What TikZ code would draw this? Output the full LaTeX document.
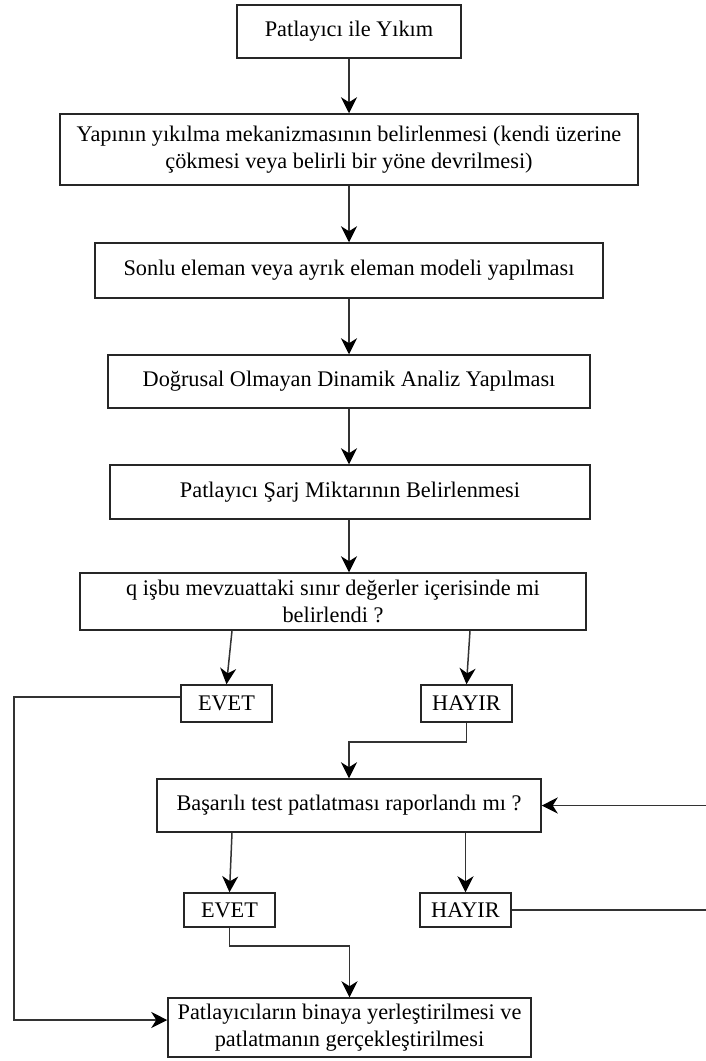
\documentclass[tikz,border=0pt]{standalone}
\usepackage{fontspec}
\setmainfont{Liberation Serif}
\usetikzlibrary{arrows.meta}

\begin{document}
\begin{tikzpicture}[x=1pt,y=-1pt,
    every node/.style={font=\fontsize{22.3}{27}\selectfont},
    kutu/.style={draw=black!85,line width=1.5pt,align=center,inner sep=0pt},
    ok/.style={draw=black!80,line width=1.5pt,-{Stealth[length=16pt,width=16pt,inset=5pt,black]}},
    cizgi/.style={draw=black!80,line width=1.5pt}]

\useasboundingbox (0,0) rectangle (706,1061);

% ana akis
\node[kutu,minimum width=224,minimum height=53] (baslangic) at (349,31.5) {Patlayıcı ile Yıkım};
\node[kutu,minimum width=578,minimum height=71] (mekanizma) at (349,149.5) {Yapının yıkılma mekanizmasının belirlenmesi (kendi üzerine\\çökmesi veya belirli bir yöne devrilmesi)};
\node[kutu,minimum width=508,minimum height=55] (model) at (349,270.5) {Sonlu eleman veya ayrık eleman modeli yapılması};
\node[kutu,minimum width=482,minimum height=53] (analiz) at (349,381.5) {Doğrusal Olmayan Dinamik Analiz Yapılması};
\node[kutu,minimum width=480,minimum height=54] (sarj) at (350,492) {Patlayıcı Şarj Miktarının Belirlenmesi};
\node[kutu,minimum width=506,minimum height=57] (kontrol) at (333,601.5) {q işbu mevzuattaki sınır değerler içerisinde mi\\belirlendi ?};

% ilk karar
\node[kutu,minimum width=91,minimum height=37] (evetA) at (226.5,703.5) {EVET};
\node[kutu,minimum width=91,minimum height=37] (hayirA) at (466.5,703.5) {HAYIR};

\node[kutu,minimum width=384,minimum height=53] (test) at (349,805.5) {Başarılı test patlatması raporlandı mı ?};

% ikinci karar
\node[kutu,minimum width=91,minimum height=34] (evetB) at (229.5,910) {EVET};
\node[kutu,minimum width=91,minimum height=34] (hayirB) at (465.5,910) {HAYIR};

\node[kutu,minimum width=363,minimum height=59] (son) at (349.5,1027.5) {Patlayıcıların binaya yerleştirilmesi ve\\patlatmanın gerçekleştirilmesi};

% kenar noktalari
\coordinate (solkenar) at (14,0);
\coordinate (sagkenar) at (706,0);

% oklar
\draw[ok] (baslangic) -- (mekanizma);
\draw[ok] (mekanizma) -- (model);
\draw[ok] (model) -- (analiz);
\draw[ok] (analiz) -- (sarj.north -| analiz.south);
\draw[ok] (sarj.south -| analiz.south) -- (kontrol.north -| analiz.south);
\draw[ok] ([xshift=5.5pt]kontrol.south -| evetA.north) -- (evetA.north);
\draw[ok] ([xshift=3.5pt]kontrol.south -| hayirA.north) -- (hayirA.north);
\draw[ok] (hayirA.south) -- ++(0,19) -| (test.north);
\draw[ok] (sagkenar |- test.east) -- (test.east);
\draw[ok] ([xshift=2.5pt]test.south -| evetB.north) -- (evetB.north);
\draw[ok] (test.south -| hayirB.north) -- (hayirB.north);
\draw[cizgi] (hayirB.east) -- (sagkenar |- hayirB.east);
\draw[ok] (evetB.south) -- ++(0,18) -| (son.north);
\draw[ok] ([yshift=6.5pt]evetA.west) -| ([yshift=7.5pt]solkenar |- son.west) -- ([yshift=7.5pt]son.west);

\end{tikzpicture}
\end{document}
